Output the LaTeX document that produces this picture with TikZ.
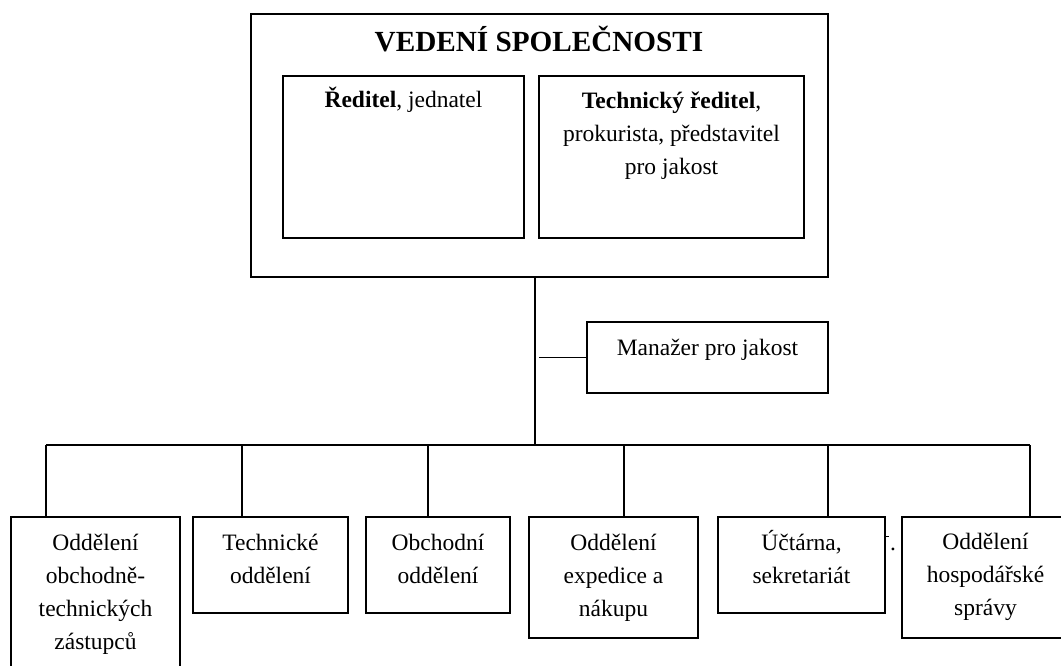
\documentclass[tikz,border=0pt]{standalone}
\usepackage{fontspec}
\setmainfont{Liberation Serif}
\begin{document}
\begin{tikzpicture}[x=1pt,y=-1pt,
  box/.style={draw, line width=1.6pt, inner sep=0pt, outer sep=0pt, rectangle},
  txt/.style={inner sep=0pt, outer sep=0pt, align=center, anchor=base,
    font=\fontsize{23.5}{33.3}\selectfont},
  ttl/.style={inner sep=0pt, anchor=base, font=\fontsize{29.2}{34}\selectfont\bfseries},
  conn/.style={line width=1.6pt}]
\useasboundingbox (0,0) rectangle (1061,666);
\clip (0,0) rectangle (1061,666);
\fill[white] (0,0) rectangle (1061,666);

% top block
\node[box, minimum width=577pt, minimum height=263pt] (top) at (539.5,145.5) {};
\node[ttl] (title) at (539,52) {VEDENÍ SPOLEČNOSTI};
\node[box, minimum width=241pt, minimum height=162pt] (red) at (403.5,157) {};
\node[txt] (redt) at (403.5,108) {\textbf{Ředitel}, jednatel};
\node[box, minimum width=265pt, minimum height=162pt] (tech) at (671.5,157) {};
% anchor=base is the baseline of the last line
\node[txt] (techt) at (671.5,174.6) {\textbf{Technický ředitel},\\prokurista, představitel\\pro jakost};

% quality manager
\node[box, minimum width=241pt, minimum height=71pt] (man) at (707.5,357.5) {};
\node[txt] (mant) at (707.5,355) {Manažer pro jakost};

% departments
\node[box, minimum width=169pt, minimum height=173pt] (b1) at (95.5,603.5) {};
\node[txt] (b1t) at (95.5,649.9) {Oddělení\\obchodně-\\technických\\zástupců};
\node[box, minimum width=155pt, minimum height=96pt] (b2) at (270.5,565) {};
\node[txt] (b2t) at (270.5,583.3) {Technické\\oddělení};
\node[box, minimum width=144pt, minimum height=96pt] (b3) at (438,565) {};
\node[txt] (b3t) at (438,583.3) {Obchodní\\oddělení};
\node[box, minimum width=169pt, minimum height=121pt] (b4) at (613.5,577.5) {};
\node[txt] (b4t) at (613.5,616.6) {Oddělení\\expedice a\\nákupu};
\node[box, minimum width=167pt, minimum height=96pt] (b5) at (801.5,565) {};
\node[txt] (b5t) at (801.5,583.3) {Účtárna,\\sekretariát};
\node[box, minimum width=167pt, minimum height=121pt] (b6) at (985.5,577.5) {};
\node[txt] (b6t) at (985.5,615.6) {Oddělení\\hospodářské\\správy};
\node[txt] (dot) at (893,550) {.};
\draw[line width=1pt] (b5.east |- 0,536) -- ++(4,0);

% connectors
\coordinate (s) at (535,445);
\coordinate (d1) at (46,445);
\coordinate (d2) at (242,445);
\coordinate (d3) at (428,445);
\coordinate (d4) at (624,445);
\coordinate (d5) at (828,445);
\coordinate (d6) at (1030,445);
\draw[conn] (s |- top.south) -- (s);
\draw[conn] ([xshift=4pt]s |- man.west) -- (man.west);
\draw[conn] (d1) -- (d6);
\draw[conn] (d1) -- (d1 |- b1.north);
\draw[conn] (d2) -- (d2 |- b2.north);
\draw[conn] (d3) -- (d3 |- b3.north);
\draw[conn] (d4) -- (d4 |- b4.north);
\draw[conn] (d5) -- (d5 |- b5.north);
\draw[conn] (d6) -- (d6 |- b6.north);
\end{tikzpicture}
\end{document}
